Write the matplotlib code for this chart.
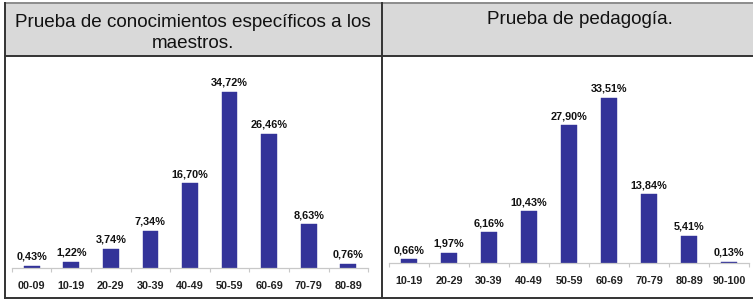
import matplotlib
matplotlib.use("Agg")
import matplotlib.pyplot as plt
from matplotlib.font_manager import FontProperties

# ---- data ----
left_title = "Prueba de conocimientos específicos a los\nmaestros."
right_title = "Prueba de pedagogía."
left_cats = ["00-09", "10-19", "20-29", "30-39", "40-49", "50-59", "60-69", "70-79", "80-89"]
left_vals = [0.43, 1.22, 3.74, 7.34, 16.70, 34.72, 26.46, 8.63, 0.76]
right_cats = ["10-19", "20-29", "30-39", "40-49", "50-59", "60-69", "70-79", "80-89", "90-100"]
right_vals = [0.66, 1.97, 6.16, 10.43, 27.90, 33.51, 13.84, 5.41, 0.13]

BAR = "#333399"
W, H = 753, 300
LSIZE = 7.8


def lab_fp():
    return FontProperties(family="Liberation Sans", weight="bold", size=LSIZE)


fig = plt.figure(figsize=(W / 100, H / 100), dpi=100)

# background table layer in pixel coordinates
bg = fig.add_axes([0, 0, 1, 1], zorder=0)
bg.set_xlim(0, W)
bg.set_ylim(H, 0)
bg.axis("off")
bg.add_patch(plt.Rectangle((5, 3), W - 5, 53, facecolor="#d9d9d9", edgecolor="none"))
lw = 1.4
bg.plot([5, W], [3, 3], color="#8c8c8c", lw=lw)
bg.plot([5, W], [56, 56], color="#333333", lw=lw)
bg.plot([5, W], [298, 298], color="#333333", lw=lw)
bg.plot([5, 5], [3, 298], color="#333333", lw=lw)
bg.plot([382, 382], [3, 298], color="#333333", lw=lw)
bg.text(193, 33, left_title, ha="center", va="center", fontsize=13.6,
        family="Liberation Sans", color="#111111", linespacing=1.3)
bg.text(580, 19, right_title, ha="center", va="center", fontsize=13.6,
        family="Liberation Sans", color="#111111")


def draw(cats, vals, x0, x1, base, pxper):
    h = 40 * pxper
    ax = fig.add_axes([x0 / W, (H - base) / H, (x1 - x0) / W, h / H], zorder=1)
    ax.patch.set_alpha(0)
    xs = list(range(len(cats)))
    ax.bar(xs, vals, width=0.4, color=BAR, edgecolor=BAR, linewidth=0.3)
    ax.set_xlim(-0.5, len(cats) - 0.5)
    ax.set_ylim(0, 40)
    for s in ["top", "right", "left"]:
        ax.spines[s].set_visible(False)
    ax.spines["bottom"].set_color("#c8c8c8")
    ax.spines["bottom"].set_linewidth(0.9)
    ax.set_yticks([])
    ax.set_xticks(xs)
    ax.set_xticklabels(cats, fontproperties=lab_fp(), color="#222222")
    ax.tick_params(axis="x", which="major", length=0, pad=9.5)
    ax.set_xticks([i + 0.5 for i in range(-1, len(cats))], minor=True)
    ax.tick_params(axis="x", which="minor", length=3, color="#c8c8c8", width=0.8)
    for x, v in zip(xs, vals):
        ax.annotate(f"{v:.2f}%".replace(".", ","), (x, v), xytext=(0, 3),
                    textcoords="offset points", ha="center", va="bottom",
                    fontproperties=lab_fp(), color="#111111")
    return ax


draw(left_cats, left_vals, 11.9, 368.1, 268, 5.069)
draw(right_cats, right_vals, 389, 749, 262.5, 4.918)

fig.savefig("out.png", dpi=100)
